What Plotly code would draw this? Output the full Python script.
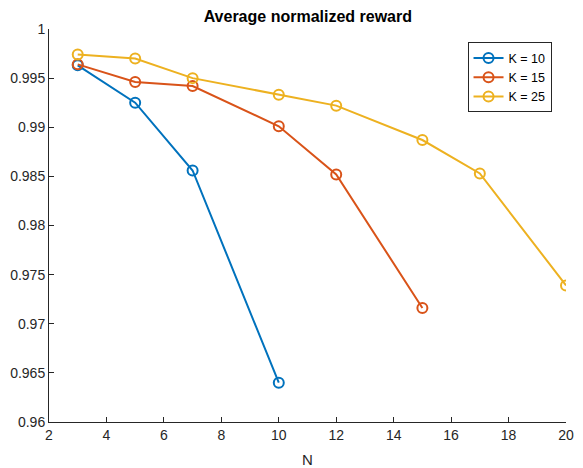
import plotly.graph_objects as go

N10 = [3, 5, 7, 10]
R10 = [0.9963, 0.9925, 0.9856, 0.9640]
N15 = [3, 5, 7, 10, 12, 15]
R15 = [0.9964, 0.9946, 0.9942, 0.9901, 0.9852, 0.9716]
N25 = [3, 5, 7, 10, 12, 15, 17, 20]
R25 = [0.9974, 0.9970, 0.9950, 0.9933, 0.9922, 0.9887, 0.9853, 0.9739]

series = [("K = 10", N10, R10, "#0072BD"),
          ("K = 15", N15, R15, "#D95319"),
          ("K = 25", N25, R25, "#EDB120")]

xticks = [2, 4, 6, 8, 10, 12, 14, 16, 18, 20]
yticks = [0.96, 0.965, 0.97, 0.975, 0.98, 0.985, 0.99, 0.995, 1.0]
yticktext = ["0.96", "0.965", "0.97", "0.975", "0.98", "0.985", "0.99", "0.995", "1"]

fig = go.Figure()
for name, x, y, c in series:
    fig.add_trace(go.Scatter(
        x=x, y=y, name=name, mode="lines+markers",
        line=dict(color=c, width=2),
        marker=dict(symbol="circle-open", size=10, color=c, line=dict(width=2, color=c)),
    ))

axcol = "#262626"
fig.update_layout(
    width=583, height=468,
    margin=dict(l=49, r=17, t=29, b=46, autoexpand=False),
    paper_bgcolor="white", plot_bgcolor="white",
    font=dict(family="Liberation Sans, Arial, sans-serif", size=14, color=axcol),
    title=dict(text="<b>Average normalized reward</b>", x=0.528, xanchor="center",
               y=0.966, yanchor="middle", font=dict(size=16, color="black")),
    showlegend=True,
    legend=dict(x=0.972, y=0.966, xanchor="right", yanchor="top",
                bgcolor="white", bordercolor=axcol, borderwidth=1,
                font=dict(size=12.5, color="black"), itemwidth=30,
                tracegroupgap=0),
)
fig.update_xaxes(range=[2, 20], tickvals=xticks, ticks="inside", ticklen=5,
                 showline=True, linecolor=axcol, linewidth=1, tickcolor=axcol,
                 showgrid=False, zeroline=False, mirror=False, automargin=False,
                 tickfont=dict(size=14, color=axcol),
                 title=dict(text="N", standoff=14, font=dict(size=15, color=axcol)))
fig.update_yaxes(range=[0.96, 1.0], tickvals=yticks, ticktext=yticktext,
                 ticks="inside", ticklen=5, showline=True, linecolor=axcol,
                 linewidth=1, tickcolor=axcol, showgrid=False, zeroline=False,
                 automargin=False,
                 tickfont=dict(size=14, color=axcol), mirror=False)

fig.write_html("out.html")
